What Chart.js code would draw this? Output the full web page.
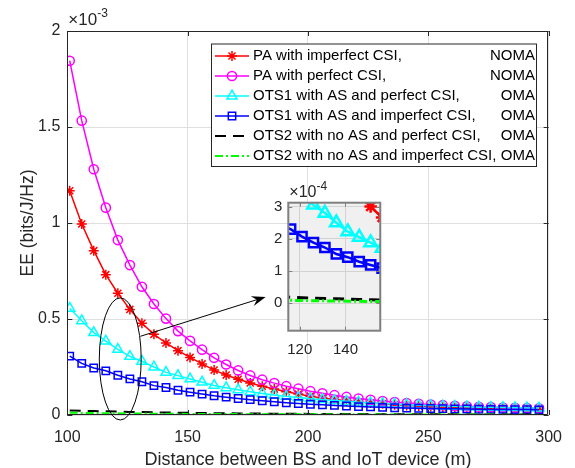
<!DOCTYPE html>
<html>
<head>
<meta charset="utf-8">
<script src="https://cdn.jsdelivr.net/npm/chart.js@4.4.0/dist/chart.umd.min.js"></script>
<style>
  html, body { margin: 0; padding: 0; background: #fff; }
  #wrap { position: relative; width: 575px; height: 468px; }
  #main { position: absolute; left: 0; top: 0; }
  #inset { position: absolute; left: 250px; top: 175px; }
</style>
</head>
<body>
<div id="wrap">
  <canvas id="main" width="575" height="468"></canvas>
  <canvas id="inset" width="140" height="190"></canvas>
</div>
<script>
// distance between BS and IoT device (m)
var distance = [101,106,111,116,121,126,131,136,141,146,151,156,161,166,171,176,181,186,191,196,
                201,206,211,216,221,226,231,236,241,246,251,256,261,266,271,276,281,286,291,296];

// EE values, in units of 1e-3 bits/J/Hz
var paImperfect = [1.168,0.995,0.856,0.731,0.634,0.550,0.478,0.420,0.375,0.335,0.300,0.266,0.234,0.208,0.186,0.167,0.150,0.135,0.121,0.109,
                   0.098,0.089,0.081,0.074,0.068,0.063,0.058,0.054,0.050,0.047,0.044,0.041,0.039,0.037,0.035,0.033,0.031,0.030,0.029,0.028];
var paPerfect = [1.845,1.533,1.280,1.080,0.911,0.781,0.668,0.578,0.502,0.437,0.386,0.340,0.298,0.263,0.232,0.206,0.184,0.166,0.150,0.137,
                 0.124,0.113,0.103,0.094,0.086,0.079,0.073,0.067,0.062,0.058,0.054,0.051,0.048,0.045,0.043,0.041,0.039,0.037,0.036,0.035];
var ots1Perfect = [0.556,0.491,0.429,0.385,0.342,0.305,0.280,0.250,0.222,0.205,0.188,0.171,0.154,0.142,0.131,0.121,0.112,0.104,0.097,0.091,
                   0.085,0.080,0.075,0.071,0.067,0.063,0.060,0.057,0.054,0.051,0.049,0.047,0.045,0.043,0.041,0.040,0.039,0.038,0.037,0.036];
var ots1Imperfect = [0.307,0.269,0.245,0.230,0.207,0.188,0.173,0.153,0.143,0.129,0.119,0.109,0.100,0.093,0.086,0.080,0.074,0.069,0.064,0.060,
                     0.056,0.053,0.050,0.047,0.044,0.042,0.040,0.038,0.036,0.035,0.034,0.033,0.032,0.031,0.030,0.029,0.029,0.028,0.028,0.027];
var ots2Perfect = [0.024,0.022,0.0205,0.019,0.0175,0.0162,0.015,0.014,0.013,0.012,0.011,0.0102,0.0095,0.0089,0.0083,0.0078,0.0073,0.0069,0.0065,0.0061,
                   0.0058,0.0055,0.0052,0.0049,0.0047,0.0045,0.0043,0.0041,0.0039,0.0037,0.0036,0.0034,0.0033,0.0032,0.0031,0.003,0.0029,0.0028,0.0027,0.0026];
var ots2Imperfect = [0.012,0.011,0.010,0.0092,0.0086,0.008,0.0075,0.007,0.0066,0.0062,0.0058,0.0055,0.0052,0.0049,0.0046,0.0044,0.0042,0.004,0.0038,0.0036,
                     0.0034,0.0033,0.0032,0.003,0.0029,0.0028,0.0027,0.0026,0.0025,0.0024,0.0023,0.0022,0.0021,0.0021,0.002,0.002,0.0019,0.0019,0.0018,0.0018];

var seriesNames = ['PA with imperfect CSI,', 'PA with perfect CSI,', 'OTS1 with AS and perfect CSI,',
                   'OTS1 with AS and imperfect CSI,', 'OTS2 with no AS and perfect CSI,', 'OTS2 with no AS and imperfect CSI,'];
var accessTypes = ['NOMA', 'NOMA', 'OMA', 'OMA', 'OMA', 'OMA'];

var xTicks = [100, 150, 200, 250, 300];
var yTicks = [0, 0.5, 1, 1.5, 2];
var insetXTicks = [120, 140];
var insetYTicks = [0, 1, 2, 3];

var FONT = '"Liberation Sans", Arial, Helvetica, sans-serif';
Chart.defaults.font.family = FONT;
Chart.defaults.color = '#262626';

var styles = [
  { color: '#ff0000', point: 'star',     r: 5,   dash: [] },
  { color: '#ff00ff', point: 'circle',   r: 4.6, dash: [] },
  { color: '#00ffff', point: 'triangle', r: 5.8, dash: [] },
  { color: '#0000ff', point: 'rect',     r: 5.2, dash: [] },
  { color: '#000000', point: false,      r: 0,   dash: [11, 7] },
  { color: '#00ff00', point: false,      r: 0,   dash: [8, 3, 2, 3] }
];
var allSeries = [paImperfect, paPerfect, ots1Perfect, ots1Imperfect, ots2Perfect, ots2Imperfect];

function buildSets(scale, lw, rScale) {
  return allSeries.map(function (vals, i) {
    var s = styles[i];
    return {
      label: seriesNames[i],
      data: distance.map(function (d, k) { return { x: d, y: vals[k] * scale }; }),
      borderColor: s.color,
      backgroundColor: 'rgba(0,0,0,0)',
      borderWidth: s.point ? lw : lw + 0.5,
      borderDash: s.dash,
      pointStyle: s.point || 'circle',
      pointRadius: s.point ? s.r * rScale : 0,
      pointBorderWidth: lw,
      pointBorderColor: s.color,
      pointBackgroundColor: 'rgba(0,0,0,0)',
      tension: 0,
      order: allSeries.length - i
    };
  });
}

function drawMarker(ctx, style, r, x, y, color, lw) {
  ctx.save();
  ctx.strokeStyle = color;
  ctx.fillStyle = 'rgba(0,0,0,0)';
  ctx.lineWidth = lw;
  Chart.helpers.drawPoint(ctx, { pointStyle: style, radius: r, rotation: 0, borderWidth: lw }, x, y);
  ctx.restore();
}

// zoom ellipse and arrow, in data units
var zoomMark = { x: 122, y: 0.292, rx: 8.7, ry: 0.318 };
var arrowFrom = { x: 130.4, y: 0.41 };
var arrowTo = { x: 182.4, y: 0.615 };
var legendBox = { left: 211, top: 43.5, right: 537, bottom: 167, row: 20 };

var mainDecor = {
  id: 'mainDecor',
  beforeDraw: function (chart) {
    var ctx = chart.ctx;
    ctx.save();
    ctx.fillStyle = '#fff';
    ctx.fillRect(0, 0, chart.width, chart.height);
    ctx.restore();
  },
  afterDatasetsDraw: function (chart) {
    var ctx = chart.ctx, a = chart.chartArea, sx = chart.scales.x, sy = chart.scales.y;
    ctx.save();
    // box + inward ticks
    ctx.strokeStyle = '#262626';
    ctx.lineWidth = 1;
    ctx.beginPath();
    xTicks.forEach(function (v) {
      var p = Math.round(sx.getPixelForValue(v)) + 0.5;
      ctx.moveTo(p, a.bottom); ctx.lineTo(p, a.bottom - 5);
      ctx.moveTo(p, a.top); ctx.lineTo(p, a.top + 5);
    });
    yTicks.forEach(function (v) {
      var p = Math.round(sy.getPixelForValue(v)) + 0.5;
      ctx.moveTo(a.left, p); ctx.lineTo(a.left + 5, p);
      ctx.moveTo(a.right, p); ctx.lineTo(a.right - 5, p);
    });
    ctx.rect(Math.round(a.left) + 0.5, Math.round(a.top) + 0.5, Math.round(a.right - a.left) - 1, Math.round(a.bottom - a.top) - 1);
    ctx.stroke();

    // exponent label
    ctx.fillStyle = '#262626';
    ctx.textAlign = 'left';
    ctx.textBaseline = 'alphabetic';
    ctx.font = '17px ' + FONT;
    ctx.fillText('\u00d710', a.left + 1, a.top - 6);
    var w = ctx.measureText('\u00d710').width;
    ctx.font = '12px ' + FONT;
    ctx.fillText('-3', a.left + 1 + w, a.top - 14);

    // ellipse
    var cx = sx.getPixelForValue(zoomMark.x), cy = sy.getPixelForValue(zoomMark.y);
    var rx = sx.getPixelForValue(zoomMark.x + zoomMark.rx) - cx;
    var ry = cy - sy.getPixelForValue(zoomMark.y + zoomMark.ry);
    ctx.strokeStyle = '#000';
    ctx.lineWidth = 1;
    ctx.beginPath();
    ctx.ellipse(cx, cy, rx, ry, 0, 0, 2 * Math.PI);
    ctx.stroke();

    // arrow
    var x0 = sx.getPixelForValue(arrowFrom.x), y0 = sy.getPixelForValue(arrowFrom.y);
    var x1 = sx.getPixelForValue(arrowTo.x), y1 = sy.getPixelForValue(arrowTo.y);
    var ang = Math.atan2(y1 - y0, x1 - x0);
    var hl = 14, hw = 5;
    ctx.beginPath();
    ctx.moveTo(x0, y0);
    ctx.lineTo(x1 - Math.cos(ang) * hl * 0.6, y1 - Math.sin(ang) * hl * 0.6);
    ctx.stroke();
    ctx.save();
    ctx.translate(x1, y1);
    ctx.rotate(ang);
    ctx.fillStyle = '#000';
    ctx.beginPath();
    ctx.moveTo(0, 0);
    ctx.lineTo(-hl, -hw);
    ctx.lineTo(-hl * 0.65, 0);
    ctx.lineTo(-hl, hw);
    ctx.closePath();
    ctx.fill();
    ctx.restore();

    // legend
    var L = legendBox;
    ctx.fillStyle = '#fff';
    ctx.fillRect(L.left, L.top, L.right - L.left, L.bottom - L.top);
    ctx.strokeStyle = '#262626';
    ctx.lineWidth = 1;
    ctx.strokeRect(L.left + 0.5, L.top + 0.5, L.right - L.left - 1, L.bottom - L.top - 1);
    ctx.font = '15px ' + FONT;
    ctx.textBaseline = 'middle';
    seriesNames.forEach(function (name, i) {
      var s = styles[i];
      var y = L.top + 12.5 + L.row * i;
      ctx.save();
      ctx.strokeStyle = s.color;
      ctx.lineWidth = s.point ? 1.5 : 2;
      ctx.setLineDash(s.dash);
      ctx.beginPath();
      ctx.moveTo(L.left + 4, y);
      ctx.lineTo(L.left + 38, y);
      ctx.stroke();
      ctx.restore();
      if (s.point) drawMarker(ctx, s.point, s.r, L.left + 21, y, s.color, 1.5);
      ctx.fillStyle = '#000';
      ctx.textAlign = 'left';
      ctx.fillText(name, L.left + 42, y);
      ctx.textAlign = 'right';
      ctx.fillText(accessTypes[i], L.right - 2, y);
    });
    ctx.restore();
  }
};

var mainChart = new Chart(document.getElementById('main'), {
  type: 'line',
  data: { datasets: buildSets(1, 1.5, 1) },
  options: {
    responsive: false,
    animation: false,
    devicePixelRatio: 1,
    layout: { padding: { top: 31, right: 16.3, left: 0, bottom: 0 } },
    plugins: { legend: { display: false }, tooltip: { enabled: false } },
    scales: {
      x: {
        type: 'linear', min: 100, max: 300,
        afterBuildTicks: function (s) { s.ticks = xTicks.map(function (v) { return { value: v }; }); },
        afterFit: function (s) { s.height = 53; },
        grid: { color: '#dfdfdf', drawTicks: false },
        border: { display: false },
        ticks: { padding: 13, font: { size: 16 }, color: '#262626' },
        title: { display: true, text: 'Distance between BS and IoT device (m)', font: { size: 18 }, color: '#262626', padding: { top: 0, bottom: -3 } }
      },
      y: {
        min: 0, max: 2,
        afterBuildTicks: function (s) { s.ticks = yTicks.map(function (v) { return { value: v }; }); },
        afterFit: function (s) { s.width = 67.3; },
        grid: { color: '#dfdfdf', drawTicks: false },
        border: { display: false },
        ticks: { padding: 7, font: { size: 16 }, color: '#262626', callback: function (v) { return String(v); } },
        title: { display: true, text: 'EE (bits/J/Hz)', font: { size: 17.5 }, color: '#262626', padding: { top: 18, bottom: 0 } }
      }
    }
  },
  plugins: [mainDecor]
});

var insetDecor = {
  id: 'insetDecor',
  beforeDraw: function (chart) {
    var ctx = chart.ctx, a = chart.chartArea;
    ctx.save();
    ctx.fillStyle = '#f0f0f0';
    ctx.fillRect(a.left, a.top, a.right - a.left, a.bottom - a.top);
    ctx.restore();
  },
  afterDatasetsDraw: function (chart) {
    var ctx = chart.ctx, a = chart.chartArea, sx = chart.scales.x, sy = chart.scales.y;
    ctx.save();
    ctx.strokeStyle = '#7f7f7f';
    ctx.lineWidth = 1;
    ctx.beginPath();
    insetXTicks.forEach(function (v) {
      var p = Math.round(sx.getPixelForValue(v)) + 0.5;
      ctx.moveTo(p, a.bottom); ctx.lineTo(p, a.bottom - 4);
      ctx.moveTo(p, a.top); ctx.lineTo(p, a.top + 4);
    });
    insetYTicks.forEach(function (v) {
      var p = Math.round(sy.getPixelForValue(v)) + 0.5;
      ctx.moveTo(a.left, p); ctx.lineTo(a.left + 4, p);
      ctx.moveTo(a.right, p); ctx.lineTo(a.right - 4, p);
    });
    ctx.stroke();
    ctx.lineWidth = 2;
    ctx.strokeRect(a.left, a.top, a.right - a.left, a.bottom - a.top);
    ctx.fillStyle = '#262626';
    ctx.textAlign = 'left';
    ctx.textBaseline = 'alphabetic';
    ctx.font = '16px ' + FONT;
    ctx.fillText('\u00d710', a.left + 1, a.top - 6);
    var w = ctx.measureText('\u00d710').width;
    ctx.font = '12px ' + FONT;
    ctx.fillText('-4', a.left + 1 + w, a.top - 13);
    ctx.restore();
  }
};

var insetChart = new Chart(document.getElementById('inset'), {
  type: 'line',
  data: { datasets: buildSets(10, 2.5, 1.25) },
  options: {
    responsive: false,
    animation: false,
    devicePixelRatio: 1,
    layout: { padding: { top: 27.7, right: 6.7, left: 0, bottom: 0 } },
    plugins: { legend: { display: false }, tooltip: { enabled: false } },
    scales: {
      x: {
        type: 'linear', min: 115, max: 155.2,
        afterBuildTicks: function (s) { s.ticks = insetXTicks.map(function (v) { return { value: v }; }); },
        afterFit: function (s) { s.height = 34.3; },
        grid: { color: '#d2d2d2', drawTicks: false },
        border: { display: false },
        ticks: { padding: 10, font: { size: 15 }, color: '#262626' }
      },
      y: {
        min: -0.85, max: 3.12,
        afterBuildTicks: function (s) { s.ticks = insetYTicks.map(function (v) { return { value: v }; }); },
        afterFit: function (s) { s.width = 38.3; },
        grid: { color: '#d2d2d2', drawTicks: false },
        border: { display: false },
        ticks: { padding: 6, font: { size: 15 }, color: '#262626' }
      }
    }
  },
  plugins: [insetDecor]
});
</script>
</body>
</html>
